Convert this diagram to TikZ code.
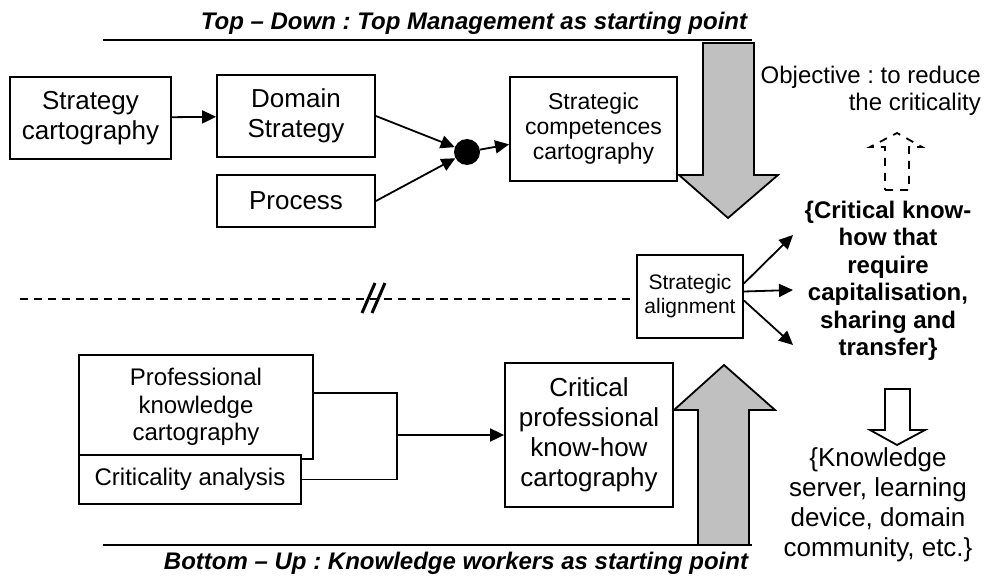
\documentclass[tikz,border=0pt]{standalone}
\usepackage{fontspec}
\setmainfont{Liberation Sans}
\usetikzlibrary{arrows.meta}
\definecolor{arrowgray}{HTML}{C0C0C0}
\frenchspacing
\tikzset{
	box/.style={draw, line width=1.8pt, align=center, inner sep=0pt},
	arr/.style={line width=1.8pt, -{Triangle[length=14pt,width=13pt]}},
	bigtxt/.style={font=\fontsize{26}{30}\selectfont},
	midtxt/.style={font=\fontsize{24}{27.5}\selectfont},
	title/.style={font=\fontsize{24}{28}\selectfont\bfseries\itshape, inner sep=0pt},
	fatarrow/.style={draw, line width=1.8pt, fill=arrowgray, line join=miter}
}

\begin{document}
\begin{tikzpicture}[x=1pt, y=-1pt]
			%%%%% START %%%%%
			\useasboundingbox (0, 0) rectangle (984, 577);
			
			% titles and their lines
			\node[title] (topdown) at (474, 23) {Top -- Down : Top Management as starting point};
			\draw[line width=1.8pt] (103, 40) -- (752, 40);
			\node[title] (bottomup) at (456, 563) {Bottom -- Up : Knowledge workers as starting point};
			\draw[line width=1.8pt] (103, 545) -- (752, 545);
			
			% top half
			\node[box, bigtxt, minimum width=161pt, minimum height=82pt] (stratcarto) at (90.5, 118) {Strategy\\cartography};
			\node[box, bigtxt, minimum width=158pt, minimum height=82pt] (domain) at (296, 116) {Domain\\Strategy};
			\node[box, bigtxt, minimum width=158pt, minimum height=52pt] (process) at (296, 201) {Process};
			\node[circle, fill=black, inner sep=0pt, minimum size=26pt] (dot) at (467, 152) {};
			\node[box, font=\fontsize{23}{25}\selectfont, minimum width=167pt, minimum height=104pt] (competences) at (593.5, 129) {Strategic\\competences\\cartography};
			
			\draw[arr] (stratcarto) -- (domain);
			\draw[arr] (domain.east) -- (dot);
			\draw[arr] (process.east) -- (dot);
			\draw[arr] (dot) -- (competences);
			
			\draw[fatarrow] (703, 43) -- (754, 43) -- (754, 175) -- (778, 175) -- (728, 218) -- (679, 175) -- (703, 175) -- cycle;
			
			% middle
			\node[box, font=\fontsize{21}{24}\selectfont, minimum width=106pt, minimum height=83pt] (alignment) at (690, 296.5) {Strategic\\alignment};
			\coordinate (leftend) at (20, 299);
			\draw[line width=1.5pt, dash pattern=on 8pt off 6pt] (leftend) -- (alignment.west |- leftend);
			\draw[line width=3pt] (362, 313) -- (375, 283);
			\draw[line width=3pt] (372, 313) -- (385, 283);
			
			\coordinate (upend) at (793, 235);
			\coordinate (midend) at (793, 290);
			\coordinate (lowend) at (793, 345);
			\draw[arr] ([yshift=13pt]alignment.east) -- (upend);
			\draw[arr] ([yshift=5pt]alignment.east) -- (midend);
			\draw[arr] ([yshift=-4pt]alignment.east) -- (lowend);
			
			% bottom half
			\node[box, midtxt, minimum width=234pt, minimum height=104pt] (profknow) at (196, 407) {Professional\\knowledge\\cartography};
			\node[box, midtxt, minimum width=222pt, minimum height=49pt, fill=white] (critanalysis) at (190, 479.5) {Criticality analysis};
			\node[box, bigtxt, minimum width=168pt, minimum height=144pt] (critprof) at (589, 435) {Critical\\professional\\know-how\\cartography};
			
			\coordinate (join) at (397, 435);
			\draw[line width=1.8pt] ([yshift=14pt]profknow.east) -| (join) |- (critanalysis.east);
			\draw[arr] (join) -- (critprof);
			
			\draw[fatarrow] (698, 545) -- (749, 545) -- (749, 410) -- (775, 410) -- (724, 365) -- (674, 410) -- (698, 410) -- cycle;
			
			% right column
			\node[align=right, inner sep=0pt, anchor=east, font=\fontsize{24}{27}\selectfont] (objective) at (981, 91) {Objective : to reduce\\the criticality};
			\draw[line width=1.8pt, dash pattern=on 8pt off 7pt] (885, 190) -- (909, 190) -- (909, 147) -- (922, 147) -- (897, 133) -- (870, 147) -- (885, 147) -- cycle;
			\node[align=center, inner sep=0pt, font=\fontsize{24}{27.5}\selectfont\bfseries] (critknow) at (888, 281) {\{Critical know-\\how that\\require\\capitalisation,\\sharing and\\transfer\}};
			\draw[line width=1.8pt, fill=white] (885, 389) -- (910, 389) -- (910, 430) -- (925, 430) -- (897, 445) -- (870, 430) -- (885, 430) -- cycle;
			\node[align=center, inner sep=0pt, bigtxt] (tools) at (878, 505) {\{Knowledge\\server, learning\\device, domain\\community, etc.\}};
			
			%%%%% END %%%%%
		\end{tikzpicture}
\end{document}
